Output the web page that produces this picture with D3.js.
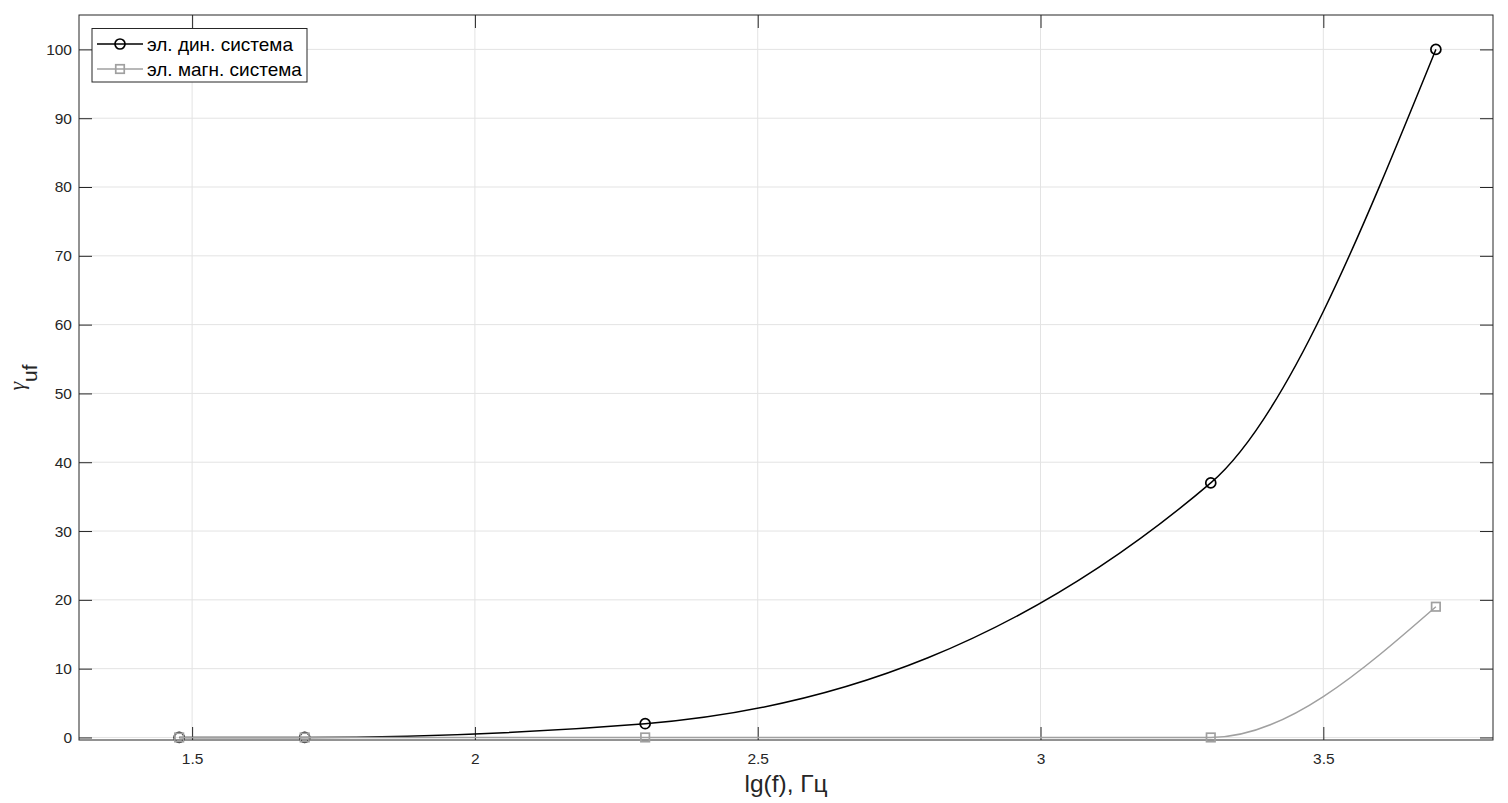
<!DOCTYPE html>
<html><head><meta charset="utf-8">
<script src="https://cdn.jsdelivr.net/npm/d3@7/dist/d3.min.js"></script>
<style>
body{margin:0;background:#fff;}
svg{display:block;font-family:"Liberation Sans",Arial,Helvetica,sans-serif;}
</style></head><body>
<svg id="c" width="1508" height="803"></svg>
<script>
const xValues = [1.4771, 1.6990, 2.3010, 3.3010, 3.6990];
const dynValues = [0, 0, 2, 37, 100];
const magValues = [0, 0, 0, 0, 19];
const seriesNames = ["эл. дин. система", "эл. магн. система"];
const xTicks = [1.5, 2, 2.5, 3, 3.5];
const yTicks = [0, 10, 20, 30, 40, 50, 60, 70, 80, 90, 100];
const xLabel = "lg(f), Гц";

const W = 1508, H = 803;
const m = {l: 79, r: 15, t: 15, b: 63};
const svg = d3.select("#c");
const x = d3.scaleLinear().domain([1.3, 3.8]).range([m.l, W - m.r]);
const y = d3.scaleLinear().domain([-0.37, 105]).range([H - m.b, m.t]);
const pw = W - m.l - m.r, ph = H - m.t - m.b;
const axisCol = "#262626";

// grid
const g = svg.append("g");
g.selectAll(".gx").data(xTicks).join("line")
  .attr("x1", d => x(d)).attr("x2", d => x(d)).attr("y1", m.t).attr("y2", H - m.b)
  .attr("stroke", "#e3e3e3").attr("stroke-width", 1);
g.selectAll(".gy").data(yTicks).join("line")
  .attr("y1", d => y(d)).attr("y2", d => y(d)).attr("x1", m.l).attr("x2", W - m.r)
  .attr("stroke", "#e3e3e3").attr("stroke-width", 1);

// axes (ticks inward, box)
const tl = 13;
const xb = svg.append("g").attr("transform", `translate(0,${H - m.b})`)
  .call(d3.axisBottom(x).tickValues(xTicks).tickSize(-tl).tickPadding(13).tickFormat(d3.format("")));
const xt = svg.append("g").attr("transform", `translate(0,${m.t})`)
  .call(d3.axisTop(x).tickValues(xTicks).tickSize(-tl).tickFormat(""));
const yl = svg.append("g").attr("transform", `translate(${m.l},0)`)
  .call(d3.axisLeft(y).tickValues(yTicks).tickSize(-tl).tickPadding(7));
const yr = svg.append("g").attr("transform", `translate(${W - m.r},0)`)
  .call(d3.axisRight(y).tickValues(yTicks).tickSize(-tl).tickFormat(""));
[xb, xt, yl, yr].forEach(a => {
  a.select(".domain").remove();
  a.selectAll("line").attr("stroke", axisCol).attr("stroke-width", 1);
  a.selectAll("text").attr("fill", axisCol).style("font-size", "15.5px").style("font-family", "'Liberation Sans',Arial,sans-serif");
});
svg.append("rect").attr("x", m.l).attr("y", m.t).attr("width", pw).attr("height", ph)
  .attr("fill", "none").attr("stroke", axisCol).attr("stroke-width", 1);

// lines
const line = d3.line().x(d => x(d[0])).y(d => y(d[1])).curve(d3.curveMonotoneX);
const dynData = xValues.map((v, i) => [v, dynValues[i]]);
const magData = xValues.map((v, i) => [v, magValues[i]]);
const blk = "#000000", gry = "#a0a0a0";

svg.append("path").datum(dynData).attr("d", line).attr("fill", "none").attr("stroke", blk).attr("stroke-width", 1.5);
svg.selectAll(".cm").data(dynData).join("circle")
  .attr("cx", d => x(d[0])).attr("cy", d => y(d[1])).attr("r", 5)
  .attr("fill", "none").attr("stroke", blk).attr("stroke-width", 1.7);

svg.append("path").datum(magData).attr("d", line).attr("fill", "none").attr("stroke", gry).attr("stroke-width", 1.5);
const sq = 8.5;
svg.selectAll(".sm").data(magData).join("rect")
  .attr("x", d => x(d[0]) - sq / 2).attr("y", d => y(d[1]) - sq / 2).attr("width", sq).attr("height", sq)
  .attr("fill", "none").attr("stroke", gry).attr("stroke-width", 1.7);

// axis labels
svg.append("text").attr("text-anchor", "middle")
  .attr("x", (m.l + W - m.r) / 2).attr("y", 792).attr("fill", axisCol)
  .style("font-size", "24.5px").text(xLabel);
const yLab = svg.append("text").attr("transform", `translate(24,${(m.t + H - m.b) / 2}) rotate(-90)`)
  .attr("text-anchor", "middle").attr("fill", axisCol).style("font-size", "22px");
yLab.append("tspan").style("font-family", "'Liberation Serif','DejaVu Serif',serif").style("font-style", "italic").text("γ");
yLab.append("tspan").attr("dy", 13).style("font-size", "21px").text("uf");

// legend
const lg = svg.append("g");
lg.append("rect").attr("x", 92).attr("y", 28.5).attr("width", 215).attr("height", 53.5)
  .attr("fill", "#fff").attr("stroke", axisCol).attr("stroke-width", 1);
const items = [{n: seriesNames[0], c: blk, t: "c", yy: 44}, {n: seriesNames[1], c: gry, t: "s", yy: 69}];
items.forEach(it => {
  lg.append("line").attr("x1", 97).attr("x2", 143).attr("y1", it.yy).attr("y2", it.yy)
    .attr("stroke", it.c).attr("stroke-width", 1.5);
  if (it.t === "c") {
    lg.append("circle").attr("cx", 120).attr("cy", it.yy).attr("r", 5).attr("fill", "none")
      .attr("stroke", it.c).attr("stroke-width", 1.7);
  } else {
    lg.append("rect").attr("x", 120 - sq / 2).attr("y", it.yy - sq / 2).attr("width", sq).attr("height", sq)
      .attr("fill", "none").attr("stroke", it.c).attr("stroke-width", 1.7);
  }
  lg.append("text").attr("x", 147).attr("y", it.yy + 6.5).attr("fill", "#000")
    .style("font-size", "19px").text(it.n);
});
</script>
</body></html>
